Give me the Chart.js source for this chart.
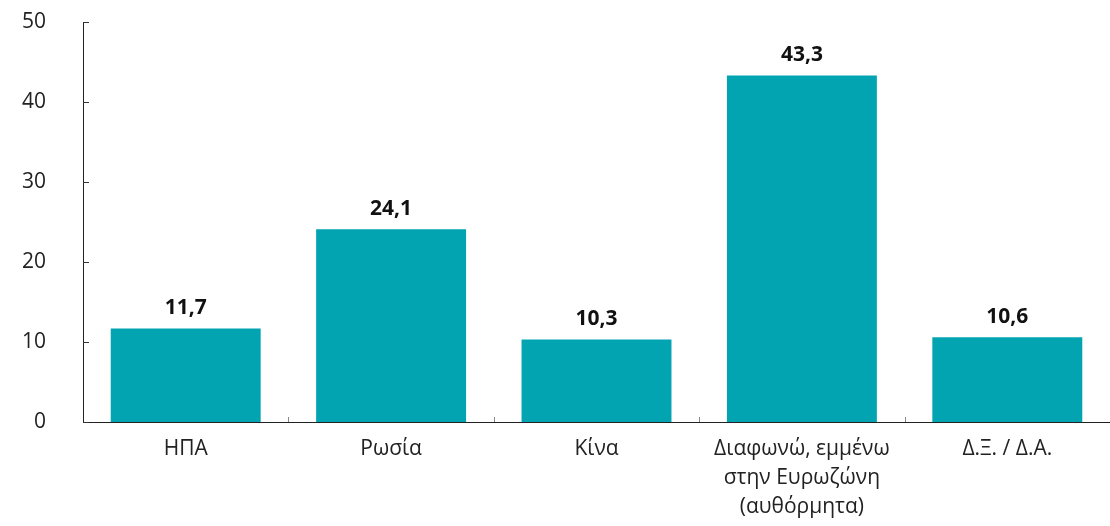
<!DOCTYPE html>
<html lang="el">
<head>
  <meta charset="UTF-8">
  <title>Bar chart</title>
  <script src="https://cdn.jsdelivr.net/npm/chart.js"></script>
  <style>
    body { margin: 0; background: #fff; }
    .chart-box { width: 1110px; height: 526px; position: relative; }
  </style>
</head>
<body>
<div class="chart-box"><canvas id="barChart"></canvas></div>
<script>
  // --- data ---
  const categories = [
    ['ΗΠΑ'],
    ['Ρωσία'],
    ['Κίνα'],
    ['Διαφωνώ, εμμένω', 'στην Ευρωζώνη', '(αυθόρμητα)'],
    ['Δ.Ξ. / Δ.Α.']
  ];
  const values = [11.7, 24.1, 10.3, 43.3, 10.6];
  const yTicks = [0, 10, 20, 30, 40, 50];

  const FONT = "'Open Sans', sans-serif";
  const BAR_COLOR = '#03a4b1';

  // small inside tick marks on both axes + value labels
  const extras = {
    id: 'extras',
    afterDraw(chart) {
      const { ctx, scales: { x, y } } = chart;
      ctx.save();
      ctx.strokeStyle = '#333';
      ctx.lineWidth = 1;
      yTicks.forEach(v => {
        const py = Math.round(y.getPixelForValue(v)) + 0.5;
        ctx.beginPath();
        ctx.moveTo(x.left, py);
        ctx.lineTo(x.left + 6, py);
        ctx.stroke();
      });
      ctx.strokeStyle = '#888';
      for (let i = 0; i < categories.length - 1; i++) {
        const px = Math.round((x.getPixelForValue(i) + x.getPixelForValue(i + 1)) / 2) + 0.5;
        ctx.beginPath();
        ctx.moveTo(px, y.bottom);
        ctx.lineTo(px, y.bottom - 5);
        ctx.stroke();
      }
      ctx.restore();
    },
    afterDatasetsDraw(chart) {
      const { ctx } = chart;
      const meta = chart.getDatasetMeta(0);
      ctx.save();
      ctx.font = "bold 21px " + FONT;
      ctx.fillStyle = '#111';
      ctx.textAlign = 'center';
      ctx.textBaseline = 'bottom';
      meta.data.forEach((bar, i) => {
        ctx.fillText(values[i].toFixed(1).replace('.', ','), bar.x, bar.y - 10);
      });
      ctx.restore();
    }
  };

  new Chart(document.getElementById('barChart'), {
    type: 'bar',
    data: {
      labels: categories,
      datasets: [{
        data: values,
        backgroundColor: BAR_COLOR,
        categoryPercentage: 1,
        barPercentage: 0.73
      }]
    },
    options: {
      responsive: true,
      maintainAspectRatio: false,
      animation: false,
      layout: { padding: { top: 22, right: 0, left: 0, bottom: 0 } },
      plugins: {
        legend: { display: false },
        tooltip: { enabled: false }
      },
      scales: {
        x: {
          grid: { display: false, drawTicks: false },
          border: { display: true, color: '#222', width: 1 },
          ticks: {
            color: '#222',
            padding: 13,
            font: { family: FONT, size: 21, lineHeight: 1.38 },
            maxRotation: 0,
            autoSkip: false
          },
          afterFit(scale) { scale.height = 104; }
        },
        y: {
          min: 0,
          max: 50,
          grid: { display: false, drawTicks: false },
          border: { display: true, color: '#222', width: 1 },
          ticks: {
            stepSize: 10,
            color: '#222',
            padding: 37,
            font: { family: FONT, size: 21 }
          },
          afterFit(scale) {
            scale.width = 83;
            scale.paddingTop = 0;
            scale.paddingBottom = 0;
          }
        }
      }
    },
    plugins: [extras]
  });
</script>
</body>
</html>
